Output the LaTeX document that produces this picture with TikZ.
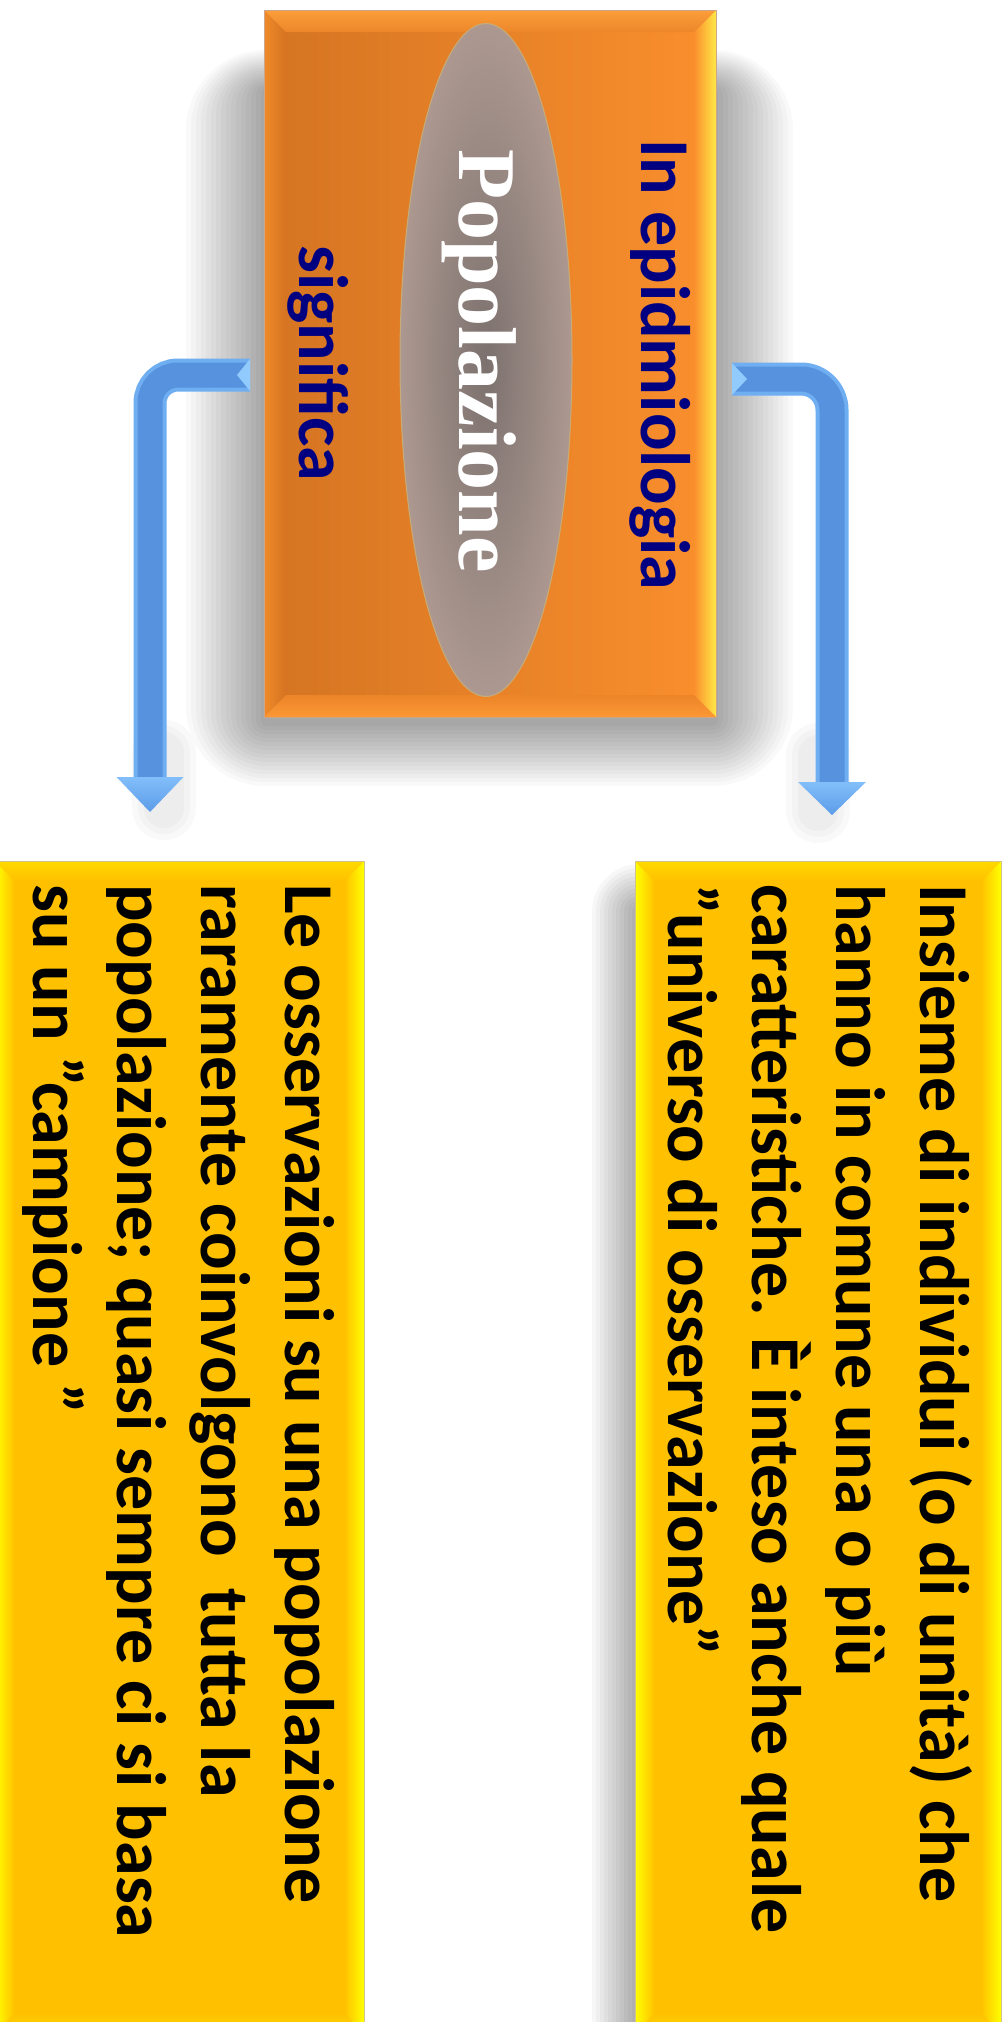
\documentclass[tikz,border=0pt]{standalone}
\usepackage{fontspec}
\newfontfamily\calib{Carlito}
\newfontfamily\tnr{Liberation Serif}
\usetikzlibrary{shapes.geometric,calc}
\definecolor{navy}{RGB}{0,0,128}
\definecolor{ybase}{RGB}{255,192,0}
\definecolor{ylight}{RGB}{255,255,0}
\definecolor{ytop}{RGB}{255,218,0}
\definecolor{yedge}{RGB}{210,195,140}
\definecolor{oleft}{RGB}{212,116,34}
\definecolor{oright}{RGB}{250,143,45}
\definecolor{oedge}{RGB}{205,165,140}
\definecolor{obevL}{RGB}{240,138,42}
\definecolor{obevR}{RGB}{255,232,70}
\definecolor{obevTa}{RGB}{252,158,58}
\definecolor{obevTb}{RGB}{236,134,42}
\definecolor{obevBa}{RGB}{252,152,52}
\definecolor{obevBb}{RGB}{236,132,40}
\definecolor{tubeL}{RGB}{112,174,242}
\definecolor{tubeD}{RGB}{86,146,222}
\definecolor{headL}{RGB}{130,190,250}
\definecolor{headD}{RGB}{92,156,232}
\definecolor{facet}{RGB}{145,202,252}
\definecolor{ellIn}{RGB}{124,113,110}
\definecolor{ellOut}{RGB}{172,152,144}
\definecolor{ellE}{RGB}{200,172,120}
\tikzset{
  ytxt/.style={inner sep=0pt, anchor=base west, rotate=-90,
    font=\calib\bfseries\fontsize{70}{84}\selectfont, text=black},
  ntxt/.style={ytxt, text=navy},
  ptxt/.style={inner sep=0pt, anchor=base west, rotate=-90,
    font=\tnr\bfseries\fontsize{82}{98}\selectfont, text=white},
  ybox/.style={rectangle, inner sep=0pt, anchor=north west, fill=ybase,
    draw=yedge, line width=1pt},
  tubeout/.style={line width=33pt, draw=tubeL, rounded corners=#1},
  tubein/.style={line width=25pt, draw=tubeD, rounded corners=#1},
  headfill/.style={top color=headL, bottom color=headD},
}
\begin{document}
\begin{tikzpicture}[x=1pt,y=-1pt]
\useasboundingbox (0,0) rectangle (1004,2022);
\fill[white] (0,0) rectangle (1004,2022);

% soft shadows
\foreach \i [evaluate=\i as \r using \i*5] in {1,...,16} {
  \fill[black,opacity=0.022,rounded corners=\r pt]
    (266-\r, 90-0.5*\r) rectangle (713+\r, 722+0.8*\r);
}
\foreach \i [evaluate=\i as \r using \i*4] in {1,...,12} {
  \fill[black,opacity=0.032,rounded corners=\r pt]
    (640-\r, 912-\r) rectangle (1000, 2100);
}

% coordinates of arrow ends
\coordinate (Ltail) at (250,375);
\coordinate (Ltip) at (150,812);
\coordinate (Rtail) at (732,379);
\coordinate (Rtip) at (832,815);

% arrow shadows (near the heads)
\foreach \w in {40,52,64}
  \draw[black,opacity=0.025,line width=\w pt,line cap=round]
    ([xshift=14pt,yshift=60pt]Ltip) -- ([xshift=14pt,yshift=4pt]Ltip);
\foreach \w in {40,52,64}
  \draw[black,opacity=0.025,line width=\w pt,line cap=round]
    ([xshift=-14pt,yshift=60pt]Rtip) -- ([xshift=-14pt,yshift=4pt]Rtip);

% central orange box
\node[rectangle, inner sep=0pt, anchor=north west, minimum width=451pt,
  minimum height=706pt, left color=oleft, right color=oright,
  draw=oedge, line width=1pt] (pop) at (264,10) {};
\path[left color=obevL, right color=oleft]
  (pop.north west) -- ($(pop.north west)+(22,22)$) --
  ($(pop.south west)+(22,-22)$) -- (pop.south west) -- cycle;
\path[left color=oright, right color=obevR]
  (pop.north east) -- ($(pop.north east)+(-22,22)$) --
  ($(pop.south east)+(-22,-22)$) -- (pop.south east) -- cycle;
\path[top color=obevTa, bottom color=obevTb]
  (pop.north west) -- (pop.north east) -- ($(pop.north east)+(-22,22)$) --
  ($(pop.north west)+(22,22)$) -- cycle;
\path[bottom color=obevBa, top color=obevBb]
  (pop.south west) -- (pop.south east) -- ($(pop.south east)+(-22,-22)$) --
  ($(pop.south west)+(22,-22)$) -- cycle;
\draw[oedge, line width=1pt] (pop.north west) rectangle (pop.south east);

% ellipse
\node[ellipse, inner sep=0pt, minimum width=172pt, minimum height=673pt,
  inner color=ellIn, outer color=ellOut,
  draw=ellE, line width=1pt] (ell) at (486,360) {};

% texts of the central box
\node[ntxt] (inepi) at (641,139) {In epidmiologia};
\node[ntxt] (signif) at (299,245) {significa};
\node[ptxt] (popw) at (459,149) {Popolazione};

% yellow boxes
\node[ybox, minimum width=365pt, minimum height=1171pt] (def) at (635,861) {};
\node[ybox, minimum width=368pt, minimum height=1171pt] (obs) at (-5,861) {};
\foreach \b in {def,obs} {
  \path[left color=ylight, right color=ybase]
    (\b.north west) -- ($(\b.north west)+(20,20)$) --
    ($(\b.south west)+(20,-20)$) -- (\b.south west) -- cycle;
  \path[left color=ybase, right color=ylight]
    (\b.north east) -- ($(\b.north east)+(-20,20)$) --
    ($(\b.south east)+(-20,-20)$) -- (\b.south east) -- cycle;
  \path[top color=ytop, bottom color=ybase]
    (\b.north west) -- (\b.north east) -- ($(\b.north east)+(-20,20)$) --
    ($(\b.north west)+(20,20)$) -- cycle;
  \path[bottom color=ytop, top color=ybase]
    (\b.south west) -- (\b.south east) -- ($(\b.south east)+(-20,-20)$) --
    ($(\b.south west)+(20,-20)$) -- cycle;
  \draw[yedge, line width=1pt] (\b.north west) rectangle (\b.south east);
}

% left arrow
\draw[tubeout=28pt] (Ltail) -| ([yshift=34pt]Ltip);
\draw[tubein=28pt] ([xshift=-1pt]Ltail) -| ([yshift=34pt]Ltip);
\path[headfill] (Ltip) -- ++(-33.5,-35) -- ++(67,0) -- cycle;
\fill[facet] (250,359) -- (237,375) -- (250,391) -- cycle;

% right arrow
\draw[tubeout=31pt] (Rtail) -| ([yshift=32pt]Rtip);
\draw[tubein=31pt] ([xshift=1pt]Rtail) -| ([yshift=32pt]Rtip);
\path[headfill] (Rtip) -- ++(-34,-33) -- ++(68,0) -- cycle;
\fill[facet] (732,363) -- (747,379) -- (732,395) -- cycle;

% texts of the yellow boxes
\node[ytxt] (d1) at (920,884) {Insieme di individui (o di unità) che};
\node[ytxt] (d2) at (836,884) {hanno in comune una o più};
\node[ytxt] (d3) at (752,884) {caratteristiche. È inteso anche quale};
\node[ytxt] (d4) at (668,884) {”universo di osservazione”};
\node[ytxt] (o1) at (285,884) {Le osservazioni su una popolazione};
\node[ytxt] (o2) at (201,884) {raramente coinvolgono\ \ tutta la};
\node[ytxt] (o3) at (117,884) {popolazione; quasi sempre ci si basa};
\node[ytxt] (o4) at (33,884) {su un ”campione ”};
\end{tikzpicture}
\end{document}
